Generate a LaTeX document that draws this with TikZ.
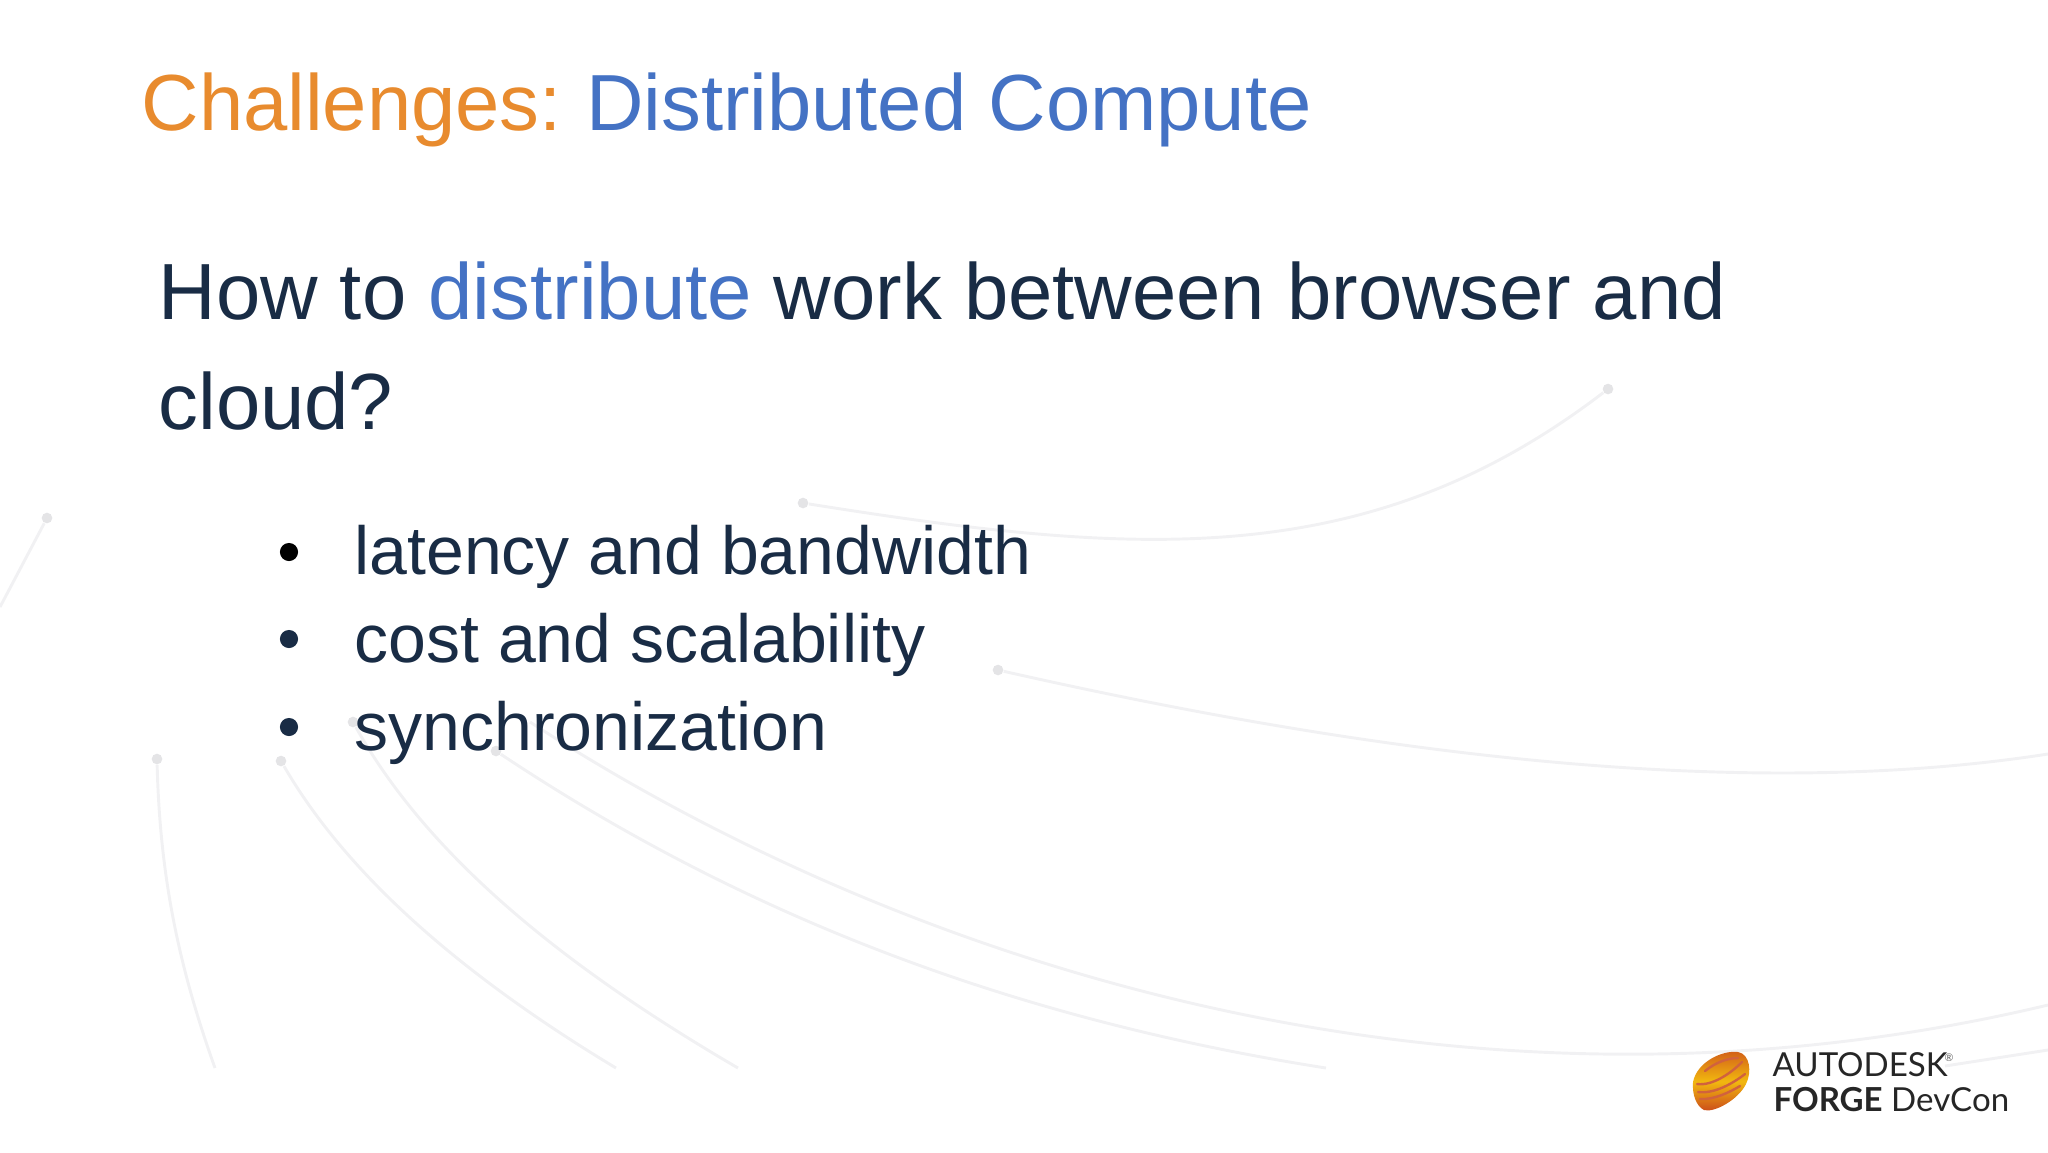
\documentclass[tikz,border=0pt]{standalone}
\usepackage{fontspec}
\setmainfont{Liberation Sans}
\newfontfamily\logofont{Lato}
\definecolor{titleorange}{HTML}{E88B2E}
\definecolor{titleblue}{HTML}{4472C4}
\definecolor{bodynavy}{HTML}{192C45}
\definecolor{arcgray}{HTML}{F1F1F3}
\definecolor{dotgray}{HTML}{E4E4E6}
\definecolor{logoyellow}{HTML}{F2B80F}
\definecolor{logored}{HTML}{C9461B}
\tikzset{
	arcline/.style={draw=arcgray, line width=1.1pt},
	arcdot/.style={circle, fill=dotgray, inner sep=0pt, minimum size=4pt},
	bulletdot/.style={circle, inner sep=0pt, minimum size=6.8pt},
	heading/.style={anchor=base west, inner sep=0pt, font=\fontsize{29.85}{36}\selectfont},
	question/.style={anchor=base west, inner sep=0pt, font=\fontsize{29.87}{36}\selectfont, text=bodynavy},
	itemtext/.style={anchor=base west, inner sep=0pt, font=\fontsize{25.5}{30}\selectfont, text=bodynavy},
	logotext/.style={anchor=base west, inner sep=0pt, text=black!85, font=\logofont\fontsize{12.4}{15}\selectfont},
	logostripe/.style={draw=logored!85, line width=0.9pt, line cap=round},
}
\begin{document}
\begin{tikzpicture}[x=0.375pt, y=-0.375pt]
\useasboundingbox (0,0) rectangle (2048,1152);

% background arcs
\node (d1) [arcdot] at (47,518) {};
\node (d2) [arcdot] at (803,503) {};
\node (d3) [arcdot] at (1608,389) {};
\node (d4) [arcdot] at (998,670) {};
\node (d5) [arcdot] at (157,759) {};
\node (d6) [arcdot] at (281,761) {};
\node (d7) [arcdot] at (353,722) {};
\node (d8) [arcdot] at (496,751) {};
\coordinate (e1) at (0,607);
\coordinate (e4) at (2048,754);
\coordinate (e5) at (215,1068);
\coordinate (e6) at (616,1068);
\coordinate (e7) at (738,1068);
\coordinate (e8) at (1326,1068);
\coordinate (s9) at (530,722);
\coordinate (e9) at (2048,1005);
\coordinate (s10) at (1945,1066);
\coordinate (e10) at (2048,1050);

\draw[arcline] (d1) -- (e1);
\draw[arcline] (d2) .. controls (1130,555) and (1365,575) .. (d3);
\draw[arcline] (d4) .. controls (1330,745) and (1720,805) .. (e4);
\draw[arcline] (d5) .. controls (160,880) and (180,970) .. (e5);
\draw[arcline] (d6) .. controls (350,880) and (470,980) .. (e6);
\draw[arcline] (d7) .. controls (430,860) and (570,970) .. (e7);
\draw[arcline] (d8) .. controls (750,920) and (1020,1020) .. (e8);
\draw[arcline] (s9) .. controls (880,950) and (1440,1150) .. (e9);
\draw[arcline] (s10) -- (e10);

% texts
\node (title) [heading] at (141,130) {\textcolor{titleorange}{Challenges:}\kern-2pt{} \textcolor{titleblue}{Distributed Compute}};
\node (q1) [question] at (158,319) {How to \textcolor{titleblue}{distribute} work between browser and};
\node (q2) [question] at (158,429) {cloud?};
\node (i1) [itemtext] at (354,574) {latency and bandwidth};
\node (i2) [itemtext] at (354,662) {cost and scalability};
\node (i3) [itemtext] at (354,750) {synchronization};
\node (b1) [bulletdot, fill=black] at (289,552) {};
\node (b2) [bulletdot, fill=bodynavy] at (289,639) {};
\node (b3) [bulletdot, fill=bodynavy] at (289,727) {};

% logo
\shade[top color=logored!80!logoyellow, bottom color=logored, middle color=logoyellow] (1693,1082) .. controls (1697,1062) and (1722,1050) .. (1738,1052) .. controls (1750,1054) and (1752,1072) .. (1746,1084) .. controls (1738,1100) and (1714,1113) .. (1704,1110) .. controls (1696,1106) and (1692,1094) .. (1693,1082) -- cycle;
\draw[logostripe] (1697,1084) .. controls (1712,1086) and (1730,1074) .. (1742,1062);
\draw[logostripe] (1698,1092) .. controls (1714,1094) and (1732,1084) .. (1745,1074);
\draw[logostripe] (1700,1099) .. controls (1714,1100) and (1730,1092) .. (1740,1086);
\draw[logostripe] (1705,1071) .. controls (1716,1062) and (1728,1058) .. (1738,1058);
\node (logoa) [logotext] at (1772,1076) {AUTODESK};
\node (logoreg) [anchor=base west, inner sep=0pt, text=black!60, font=\logofont\fontsize{4}{5}\selectfont] at (1944,1061) {®};
\node (logob) [logotext] at (1773,1111) {\textbf{FORGE} DevCon};
\end{tikzpicture}
\end{document}
